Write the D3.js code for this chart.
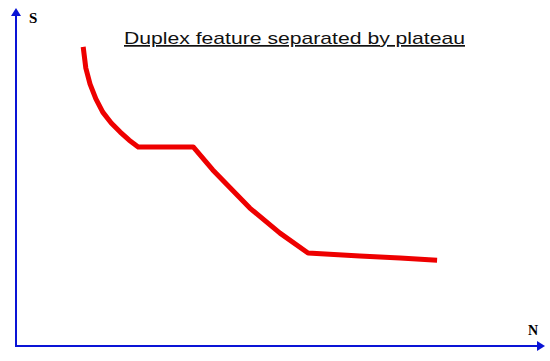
<!DOCTYPE html>
<html>
<head>
<meta charset="utf-8">
<script src="https://cdn.jsdelivr.net/npm/d3@7"></script>
<style>
  body { margin: 0; background: #fff; }
</style>
</head>
<body>
<div id="chart"></div>
<script>
// N (x) and S (y) readings along the curve, in axis units 0-100
var nValues = [12.7, 13.2, 14.0, 15.1, 16.4, 18.0, 19.7, 21.4, 23.1, 33.5, 37.2, 44.2, 49.9, 55.2, 65.0, 72.6, 79.6];
var sValues = [88.5, 82.2, 77.5, 73.1, 69.2, 66.0, 63.3, 60.9, 58.9, 58.9, 52.1, 40.8, 33.4, 27.5, 26.6, 26.0, 25.4];
var axisLabels = ["N", "S"];
var title = "Duplex feature separated by plateau";

(function() {
  var width = 550, height = 361;

  var svg = d3.select("#chart")
    .append("svg")
    .attr("width", width)
    .attr("height", height);

  var x = d3.scaleLinear().domain([0, 100]).range([16, 545]);
  var y = d3.scaleLinear().domain([0, 100]).range([346, 8]);

  var points = nValues.map(function(n, i) { return [n, sValues[i]]; });

  var axisColor = "#0a14d6";

  // axes: plain lines with arrowheads
  svg.append("line")
    .attr("x1", x(0)).attr("y1", y(0))
    .attr("x2", x(0)).attr("y2", y(100) + 6)
    .attr("stroke", axisColor)
    .attr("stroke-width", 2);

  svg.append("line")
    .attr("x1", x(0) - 1).attr("y1", y(0))
    .attr("x2", x(100) - 6).attr("y2", y(0))
    .attr("stroke", axisColor)
    .attr("stroke-width", 2);

  svg.append("path")
    .attr("d", "M" + x(0) + "," + y(100) + "l-5,8l10,0z")
    .attr("fill", axisColor);

  svg.append("path")
    .attr("d", "M" + x(100) + "," + y(0) + "l-8,-5l0,10z")
    .attr("fill", axisColor);

  svg.append("text")
    .attr("x", 29)
    .attr("y", 23)
    .attr("font-family", "Liberation Serif, serif")
    .attr("font-weight", "bold")
    .attr("font-size", 15)
    .text(axisLabels[1]);

  svg.append("text")
    .attr("x", 528)
    .attr("y", 335)
    .attr("font-family", "Liberation Serif, serif")
    .attr("font-weight", "bold")
    .attr("font-size", 14)
    .text(axisLabels[0]);

  svg.append("text")
    .attr("x", 124)
    .attr("y", 44)
    .attr("font-family", "Liberation Sans, Arial, sans-serif")
    .attr("font-size", 17)
    .attr("textLength", 341)
    .attr("lengthAdjust", "spacingAndGlyphs")
    .attr("text-decoration", "underline")
    .attr("fill", "#111")
    .text(title);

  var line = d3.line()
    .x(function(d) { return x(d[0]); })
    .y(function(d) { return y(d[1]); });

  svg.append("path")
    .datum(points)
    .attr("d", line)
    .attr("fill", "none")
    .attr("stroke", "#ee0000")
    .attr("stroke-width", 5)
    .attr("stroke-linejoin", "round");
})();
</script>
</body>
</html>
